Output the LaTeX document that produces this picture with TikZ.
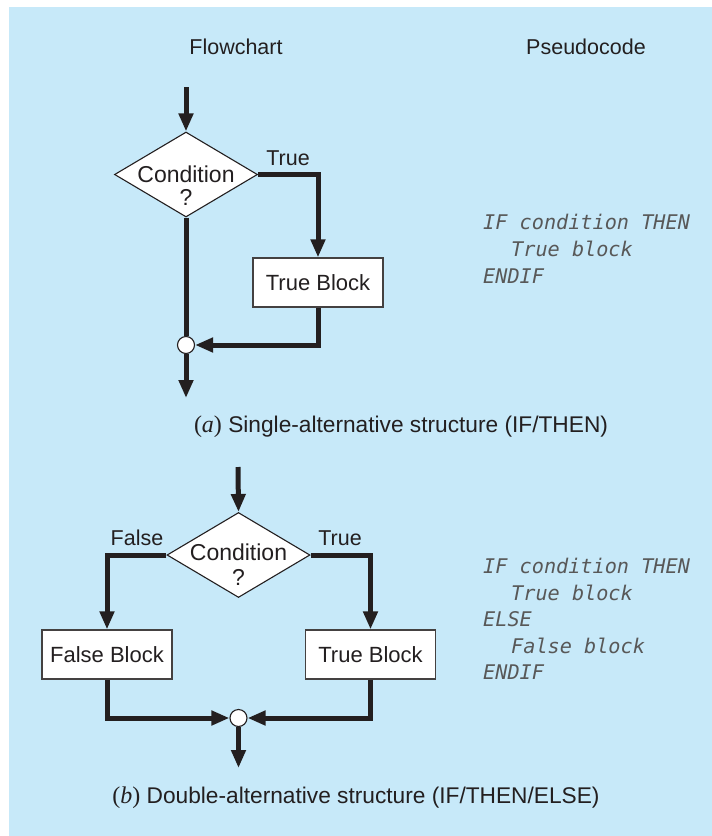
\documentclass[tikz,border=0pt]{standalone}
\usepackage{fontspec}
\setmainfont{Liberation Sans}
\newfontfamily\capserif{Liberation Serif}
\newfontfamily\pcode{DejaVu Sans Mono}
\usetikzlibrary{shapes.geometric,arrows.meta}
\definecolor{bgblue}{RGB}{199,233,249}
\definecolor{ink}{RGB}{35,31,32}
\definecolor{codegray}{RGB}{88,88,88}
\tikzset{
  x=1pt, y=-1pt,
  flow/.style={line width=5pt, draw=ink, line join=miter, -{Triangle[length=18pt,width=14pt]}},
  flowline/.style={line width=5pt, draw=ink},
  decision/.style={shape=diamond, draw=ink, fill=white, line width=1.1pt, minimum width=143pt, minimum height=85pt, inner sep=0pt},
  blockbox/.style={draw=ink!85, fill=white, line width=1.2pt, minimum width=130pt, minimum height=49pt, inner sep=0pt, font=\fontsize{22}{24}\selectfont, text=ink},
  joint/.style={circle, draw=ink, fill=white, line width=1.1pt, minimum size=17pt, inner sep=0pt},
  lbl/.style={font=\fontsize{21.5}{24}\selectfont, text=ink, inner sep=0pt},
  dlbl/.style={font=\fontsize{23}{24}\selectfont, text=ink, inner sep=0pt},
  caplbl/.style={font=\fontsize{22.7}{24}\selectfont, text=ink, inner sep=0pt},
  code/.style={font=\pcode\itshape\fontsize{20.2}{24}\selectfont, text=codegray, inner sep=0pt, anchor=base west},
}
\begin{document}
\begin{tikzpicture}
\useasboundingbox (0,0) rectangle (712,836);
\fill[bgblue] (9,7) rectangle (712,836);

% headers
\node[lbl, anchor=base] (hf) at (236,54) {Flowchart};
\node[lbl, anchor=base] (hp) at (586,54) {Pseudocode};

% ---------- (a) ----------
\coordinate (inA) at (186,87);
\node[decision] (dA) at (186,174.5) {};
\node[dlbl, anchor=base] (dAt1) at (186,182) {Condition};
\node[dlbl, anchor=base] (dAt2) at (186,205) {?};
\node[blockbox] (tbA) at (318,282.5) {True Block};
\node[joint] (cA) at (186,345) {};
\coordinate (outA) at (186,398);
\node[lbl, anchor=base] (trueA) at (288,165) {True};

\draw[flow] (inA) -- (dA.north);
\draw[flow] (dA.east) -| (tbA.north);
\draw[flowline] (dA.south) -- (cA.north);
\draw[flow] (tbA.south) |- (cA.east);
\draw[flow] (cA.south) -- (outA);

\node[code] (pa1) at (483,229) {IF condition THEN};
\node[code] (pa2) at (511,256) {True block};
\node[code] (pa3) at (483,283) {ENDIF};

\node[caplbl, anchor=base] (capA) at (401,432) {{\capserif\fontsize{24}{24}\selectfont(\textit{a})} Single-alternative structure (IF/THEN)};

% ---------- (b) ----------
\coordinate (inB) at (238,467);
\node[decision] (dB) at (238.5,555) {};
\node[dlbl, anchor=base] (dBt1) at (238.5,560) {Condition};
\node[dlbl, anchor=base] (dBt2) at (238.5,585) {?};
\node[blockbox] (fbB) at (107,654.5) {False Block};
\node[blockbox] (tbB) at (370.5,654.5) {True Block};
\node[joint] (cB) at (238.5,718) {};
\coordinate (outB) at (238.5,768);
\node[lbl, anchor=base] (falseB) at (137,545) {False};
\node[lbl, anchor=base] (trueB) at (340,545) {True};

\draw[flow] (inB) -- (dB.north);
\draw[flow] (dB.west) -| (fbB.north);
\draw[flow] (dB.east) -| (tbB.north);
\draw[flow] (fbB.south) |- (cB.west);
\draw[flow] (tbB.south) |- (cB.east);
\draw[flow] (cB.south) -- (outB);

\node[code] (pb1) at (483,573) {IF condition THEN};
\node[code] (pb2) at (511,600) {True block};
\node[code] (pb3) at (483,626.5) {ELSE};
\node[code] (pb4) at (511,653) {False block};
\node[code] (pb5) at (483,679) {ENDIF};

\node[caplbl, anchor=base] (capB) at (356,803) {{\capserif\fontsize{24}{24}\selectfont(\textit{b})} Double-alternative structure (IF/THEN/ELSE)};
\end{tikzpicture}
\end{document}
